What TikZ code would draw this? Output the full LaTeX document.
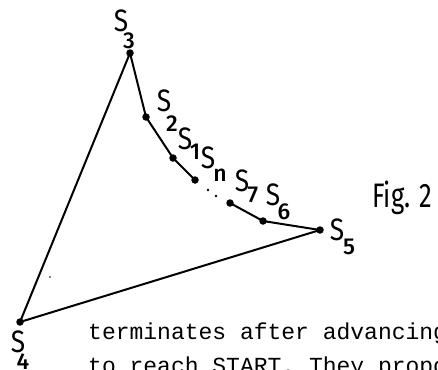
\documentclass[tikz,border=0pt]{standalone}
\usepackage{fontspec}
\setmainfont{Liberation Mono}
\newfontfamily\handfont{Fira Sans}
\newfontfamily\handsubfont{Fira Sans Medium}
\tikzset{
  pt/.style={circle,fill=black,inner sep=0pt,minimum size=7.5pt},
  tinydot/.style={circle,fill=black,inner sep=0pt,minimum size=2.8pt},
  speck/.style={circle,fill=black,inner sep=0pt,minimum size=1.6pt},
  edge/.style={line width=2pt,line cap=round,line join=round},
  sbig/.style={font=\handfont\fontsize{31}{31}\selectfont,inner sep=0pt},
  ssub/.style={font=\handsubfont\fontsize{23}{23}\selectfont,inner sep=0pt},
  txt/.style={font=\fontsize{23}{23}\selectfont,inner sep=0pt,anchor=base west},
}
\begin{document}
\begin{tikzpicture}[x=1pt,y=-1pt]
\useasboundingbox (0,0) rectangle (438,369);
\clip (0,0) rectangle (438,369);
% points
\node[pt] (s3) at (130,53) {};
\node[pt] (s2) at (146,117) {};
\node[pt] (s1) at (173,158) {};
\node[pt] (sn) at (195,180) {};
\node[pt] (s7) at (230,203) {};
\node[pt] (s6) at (263,221) {};
\node[pt] (s5) at (320,230) {};
\node[pt] (s4) at (20,322) {};
\node[tinydot] (d1) at (208,190) {};
\node[tinydot] (d2) at (216,196) {};
\node[speck] (sp) at (50,277) {};
% connectors
\draw[edge] (s3.center) -- (s2.center) -- (s1.center) -- (sn.center);
\draw[edge] (s7.center) -- (s6.center) -- (s5.center);
\draw[edge] (s5.center) -- (s4.center);
\draw[edge] (s4.center) -- (s3.center);
% labels
\node[sbig] (l3) at (121,21) {\scalebox{0.85}[1]{S}};
\node[ssub] (l3i) at (129,41) {3};
\node[sbig] (l2) at (164,101) {\scalebox{0.85}[1]{S}};
\node[ssub] (l2i) at (172,124) {2};
\node[sbig] (l1) at (185,139) {\scalebox{0.85}[1]{S}};
\node[ssub] (l1i) at (195,152) {1};
\node[sbig] (ln) at (208,158) {\scalebox{0.85}[1]{S}};
\node[ssub] (lni) at (220,175) {n};
\node[sbig] (l7) at (242,181) {\scalebox{0.85}[1]{S}};
\node[ssub] (l7i) at (253,195) {7};
\node[sbig] (l6) at (273,195) {\scalebox{0.85}[1]{S}};
\node[ssub] (l6i) at (284,212) {6};
\node[sbig] (l5) at (337,230) {\scalebox{0.85}[1]{S}};
\node[ssub] (l5i) at (349,247) {5};
\node[sbig] (l4) at (18,342) {\scalebox{0.85}[1]{S}};
\node[ssub] (l4i) at (23,362) {4};
\node[font=\handfont\fontsize{34}{34}\selectfont,inner sep=0pt,anchor=base west] (fig) at (372,207) {\scalebox{0.75}[1]{Fig. 2}};
% body text
\node[txt] (t1) at (88,339) {terminates after advancing};
\node[txt] (t2) at (88,373) {to reach START. They propose};
\end{tikzpicture}
\end{document}
